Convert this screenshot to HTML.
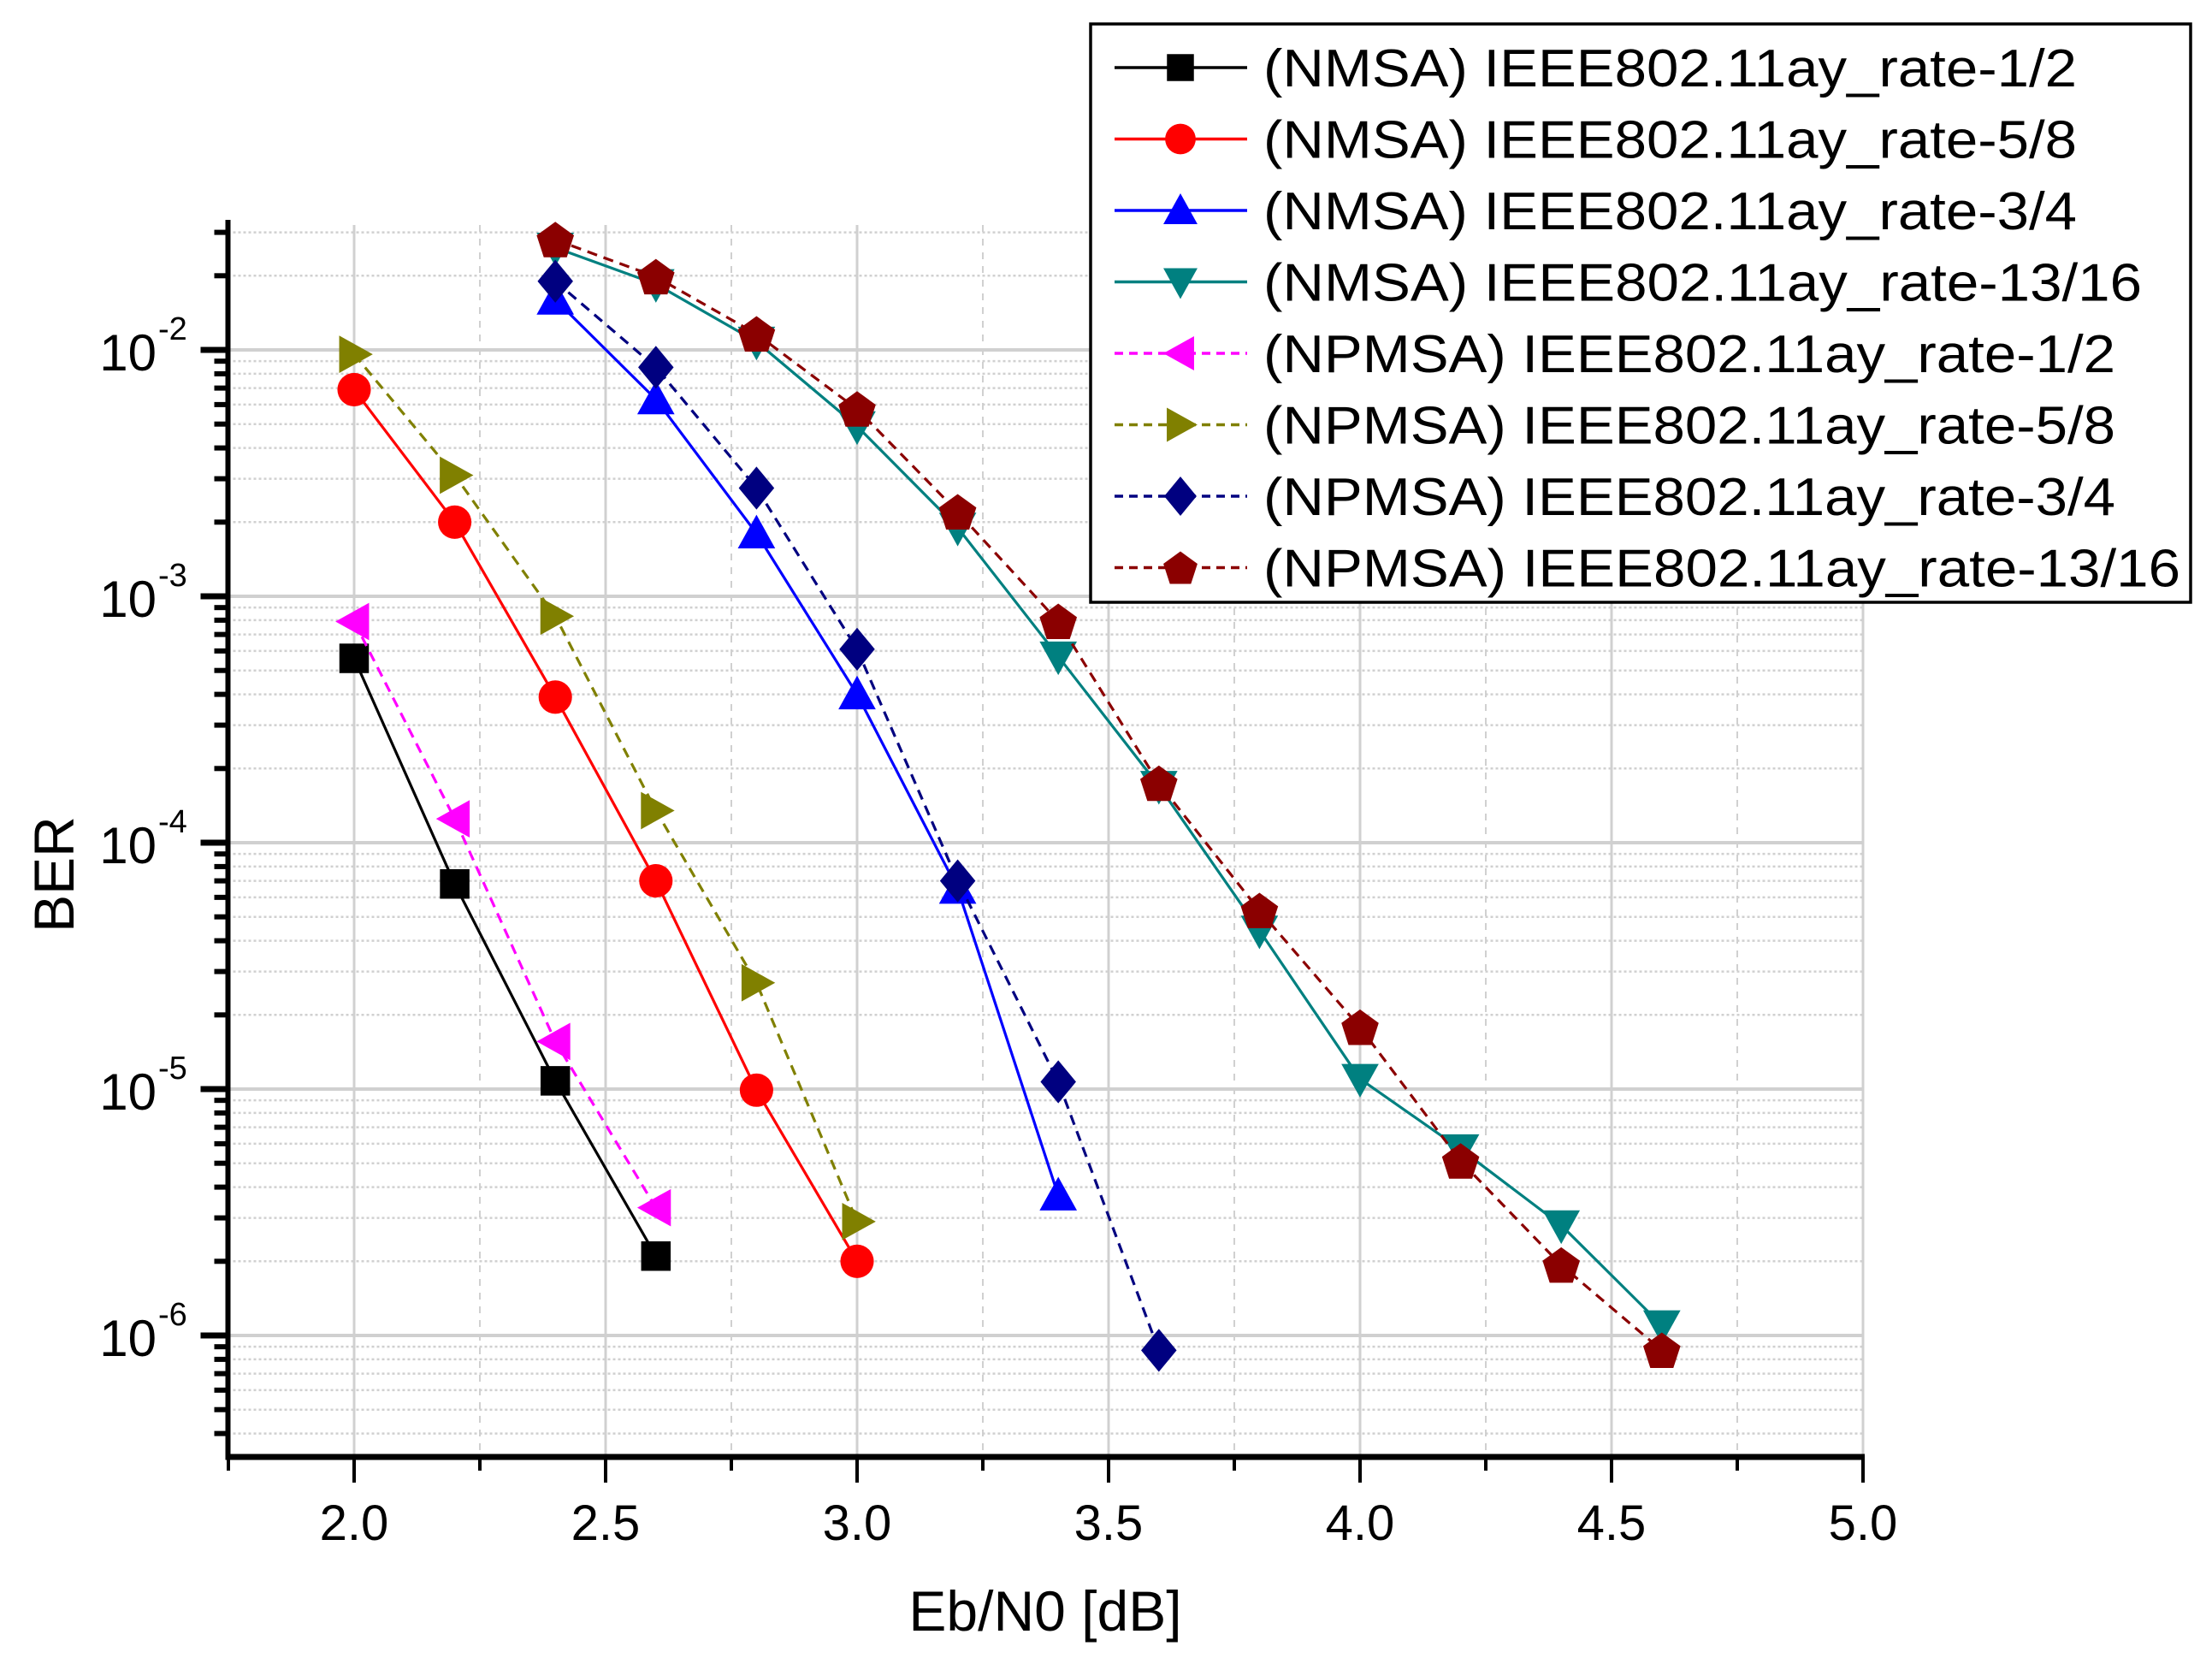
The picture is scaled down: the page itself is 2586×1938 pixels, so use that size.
<!DOCTYPE html>
<html><head><meta charset="utf-8"><style>
html,body{margin:0;padding:0;background:#fff;}
svg{display:block;font-family:"Liberation Sans",Arial,sans-serif;}
</style></head><body>
<svg id="chart" width="2586" height="1938" viewBox="0 0 2586 1938" xmlns="http://www.w3.org/2000/svg">
<g id="grid"></g>
<g id="axes"></g>
<g id="series"></g>
<g id="legend"></g>
<text x="1222" y="1906" font-size="66" text-anchor="middle">Eb/N0 [dB]</text>
<text x="0" y="0" font-size="66" text-anchor="middle" transform="translate(86,1022) rotate(-90)">BER</text>
</svg>
<script>
const xVals = [2.0,2.2,2.4,2.6,2.8,3.0,3.2,3.4,3.6,3.8,4.0,4.2,4.4,4.6];
const nmsa12 = [5.6e-4,6.8e-5,1.08e-5,2.1e-6];
const nmsa58 = [6.9e-3,2.0e-3,3.9e-4,7e-5,9.9e-6,2e-6];
const nmsa34 = [1.6e-2,6.3e-3,1.8e-3,4e-4,6.5e-5,3.7e-6];
const nmsa1316 = [2.6e-2,1.85e-2,1.08e-2,4.9e-3,1.9e-3,5.7e-4,1.7e-4,4.4e-5,1.1e-5,5.7e-6,2.8e-6,1.1e-6];
const npmsa12 = [7.9e-4,1.25e-4,1.56e-5,3.3e-6];
const npmsa58 = [9.6e-3,3.1e-3,8.3e-4,1.35e-4,2.7e-5,2.9e-6];
const npmsa34 = [1.9e-2,8.5e-3,2.75e-3,6.1e-4,7e-5,1.07e-5,8.7e-7];
const npmsa1316 = [2.8e-2,1.98e-2,1.16e-2,5.75e-3,2.2e-3,7.9e-4,1.74e-4,5.3e-5,1.78e-5,5.1e-6,1.93e-6,8.7e-7];
const xTicks = ["2.0","2.5","3.0","3.5","4.0","4.5","5.0"];
const yDecades = [-2,-3,-4,-5,-6];
const legendLabels = ["(NMSA) IEEE802.11ay_rate-1/2","(NMSA) IEEE802.11ay_rate-5/8","(NMSA) IEEE802.11ay_rate-3/4","(NMSA) IEEE802.11ay_rate-13/16","(NPMSA) IEEE802.11ay_rate-1/2","(NPMSA) IEEE802.11ay_rate-5/8","(NPMSA) IEEE802.11ay_rate-3/4","(NPMSA) IEEE802.11ay_rate-13/16"];

const NS="http://www.w3.org/2000/svg";
const X0=266.5,X1=2178,Y0=263,Y1=1703;
function xs(v){return 414+(v-2.0)*588;}
function ys(v){return 409-(Math.log10(v)+2)*288;}
function mk(tag,attrs,parent){const e=document.createElementNS(NS,tag);for(const k in attrs)e.setAttribute(k,attrs[k]);parent.appendChild(e);return e;}
const grid=document.getElementById('grid'),axes=document.getElementById('axes'),ser=document.getElementById('series'),leg=document.getElementById('legend');

for(let v=2.0;v<=5.0001;v+=0.25){
  const major=Math.abs(v*2-Math.round(v*2))<1e-6;
  const l=mk('line',{x1:xs(v),x2:xs(v),y1:Y0,y2:Y1,stroke:'#d0d0d0','stroke-width':major?3:2,'stroke-dasharray':major?'none':'8,8'},grid);
  
  
}
for(let d=-7;d<=-1;d++){
  for(let m=1;m<=9;m++){
    const v=m*Math.pow(10,d);const y=ys(v);
    if(y<Y0-1||y>Y1)continue;
    const l=mk('line',{x1:X0,x2:X1,y1:y,y2:y,stroke:'#d0d0d0','stroke-width':m===1?4:2.5,'stroke-dasharray':m===1?'none':'3,3'},grid);
    
    
    const t=mk('line',{x1:X0-(m===1?32:16),x2:X0,y1:y,y2:y,stroke:'#000','stroke-width':m===1?7:6},axes);
    
    
  }
}
const sp1=mk('line',{x1:X0,x2:X0,y1:Y0-6,y2:Y1+3,stroke:'#000','stroke-width':6},axes);


const sp2=mk('line',{x1:X0-3,x2:X1+2,y1:Y1,y2:Y1,stroke:'#000','stroke-width':7},axes);


for(let v=1.75;v<=5.0001;v+=0.25){
  const major=Math.abs(v*2-Math.round(v*2))<1e-6;
  const t=mk('line',{x1:xs(v),x2:xs(v),y1:Y1,y2:Y1+(major?30:16),stroke:'#000','stroke-width':4},axes);
  
  
}
xTicks.forEach(s=>{
  const t=mk('text',{x:xs(parseFloat(s)),y:1800,'font-size':58,'text-anchor':'middle'},axes);
  t.textContent=s;
  
  
});
yDecades.forEach(d=>{
  const y=ys(Math.pow(10,d));
  const t=mk('text',{x:183,y:y+24,'font-size':60,'text-anchor':'end'},axes);
  t.textContent='10';
  
  
  const s=mk('text',{x:185,y:y-12,'font-size':38,'text-anchor':'start'},axes);
  s.textContent=String(d);
  
  
});

function marker(type,cx,cy,color,parent,s){
  s=s||1;let e;
  if(type==='square')e=mk('rect',{x:cx-15*s,y:cy-15*s,width:30*s,height:30*s,fill:color},parent);
  else if(type==='circle')e=mk('circle',{cx:cx,cy:cy,r:17*s,fill:color},parent);
  else{
    let pts;const r=19*s;
    if(type==='up')pts=[[0,-r],[r,r*0.8],[-r,r*0.8]];
    else if(type==='down')pts=[[0,r],[r,-r*0.8],[-r,-r*0.8]];
    else if(type==='left')pts=[[-r,0],[r*0.8,-r],[r*0.8,r]];
    else if(type==='right')pts=[[r,0],[-r*0.8,-r],[-r*0.8,r]];
    else if(type==='diamond')pts=[[0,-r*1.15],[r*0.95,0],[0,r*1.15],[-r*0.95,0]];
    else {pts=[];for(let i=0;i<5;i++){const a=-Math.PI/2+i*2*Math.PI/5;pts.push([r*1.05*Math.cos(a),r*1.05*Math.sin(a)+2]);}}
    e=mk('polygon',{points:pts.map(p=>(cx+p[0])+','+(cy+p[1])).join(' '),fill:color},parent);
  }
  return e;
}
const seriesDefs=[
 {d:nmsa12,start:2.0,c:'#000000',m:'square',dash:false},
 {d:nmsa58,start:2.0,c:'#ff0000',m:'circle',dash:false},
 {d:nmsa34,start:2.4,c:'#0000ff',m:'up',dash:false},
 {d:nmsa1316,start:2.4,c:'#008080',m:'down',dash:false},
 {d:npmsa12,start:2.0,c:'#ff00ff',m:'left',dash:true},
 {d:npmsa58,start:2.0,c:'#808000',m:'right',dash:true},
 {d:npmsa34,start:2.4,c:'#000080',m:'diamond',dash:true},
 {d:npmsa1316,start:2.4,c:'#8b0000',m:'pent',dash:true}
];
const names=['nmsa-1-2','nmsa-5-8','nmsa-3-4','nmsa-13-16','npmsa-1-2','npmsa-5-8','npmsa-3-4','npmsa-13-16'];
seriesDefs.forEach((s,i)=>{
  const g=mk('g',{},ser);
  
  
  const i0=xVals.findIndex(v=>Math.abs(v-s.start)<1e-6);
  const pts=s.d.map((v,k)=>[xs(xVals[i0+k]),ys(v)]);
  const pl=mk('polyline',{points:pts.map(p=>p.join(',')).join(' '),fill:'none',stroke:s.c,'stroke-width':3.2,'stroke-dasharray':s.dash?'12,8':'none'},g);
  
  
  pts.forEach(p=>{
    const e=marker(s.m,p[0],p[1],s.c,g,1.15);
    
    
  });
});
const box=mk('rect',{x:1275,y:28,width:1286,height:676,fill:'#fff',stroke:'#000','stroke-width':3.5},leg);


const textW=[951,951,951,1027,996,996,996,1072];
seriesDefs.forEach((s,i)=>{
  const y=79+i*83.5;
  const g=mk('g',{},leg);
  
  
  mk('line',{x1:1303,x2:1458,y1:y,y2:y,stroke:s.c,'stroke-width':3.4,'stroke-dasharray':s.dash?'10,7':'none'},g);
  marker(s.m,1380,y,s.c,g,1.05);
  const t=mk('text',{x:1477,y:y+22,'font-size':62,textLength:textW[i],lengthAdjust:'spacingAndGlyphs'},g);
  t.textContent=legendLabels[i];
});
</script>
</body></html>
